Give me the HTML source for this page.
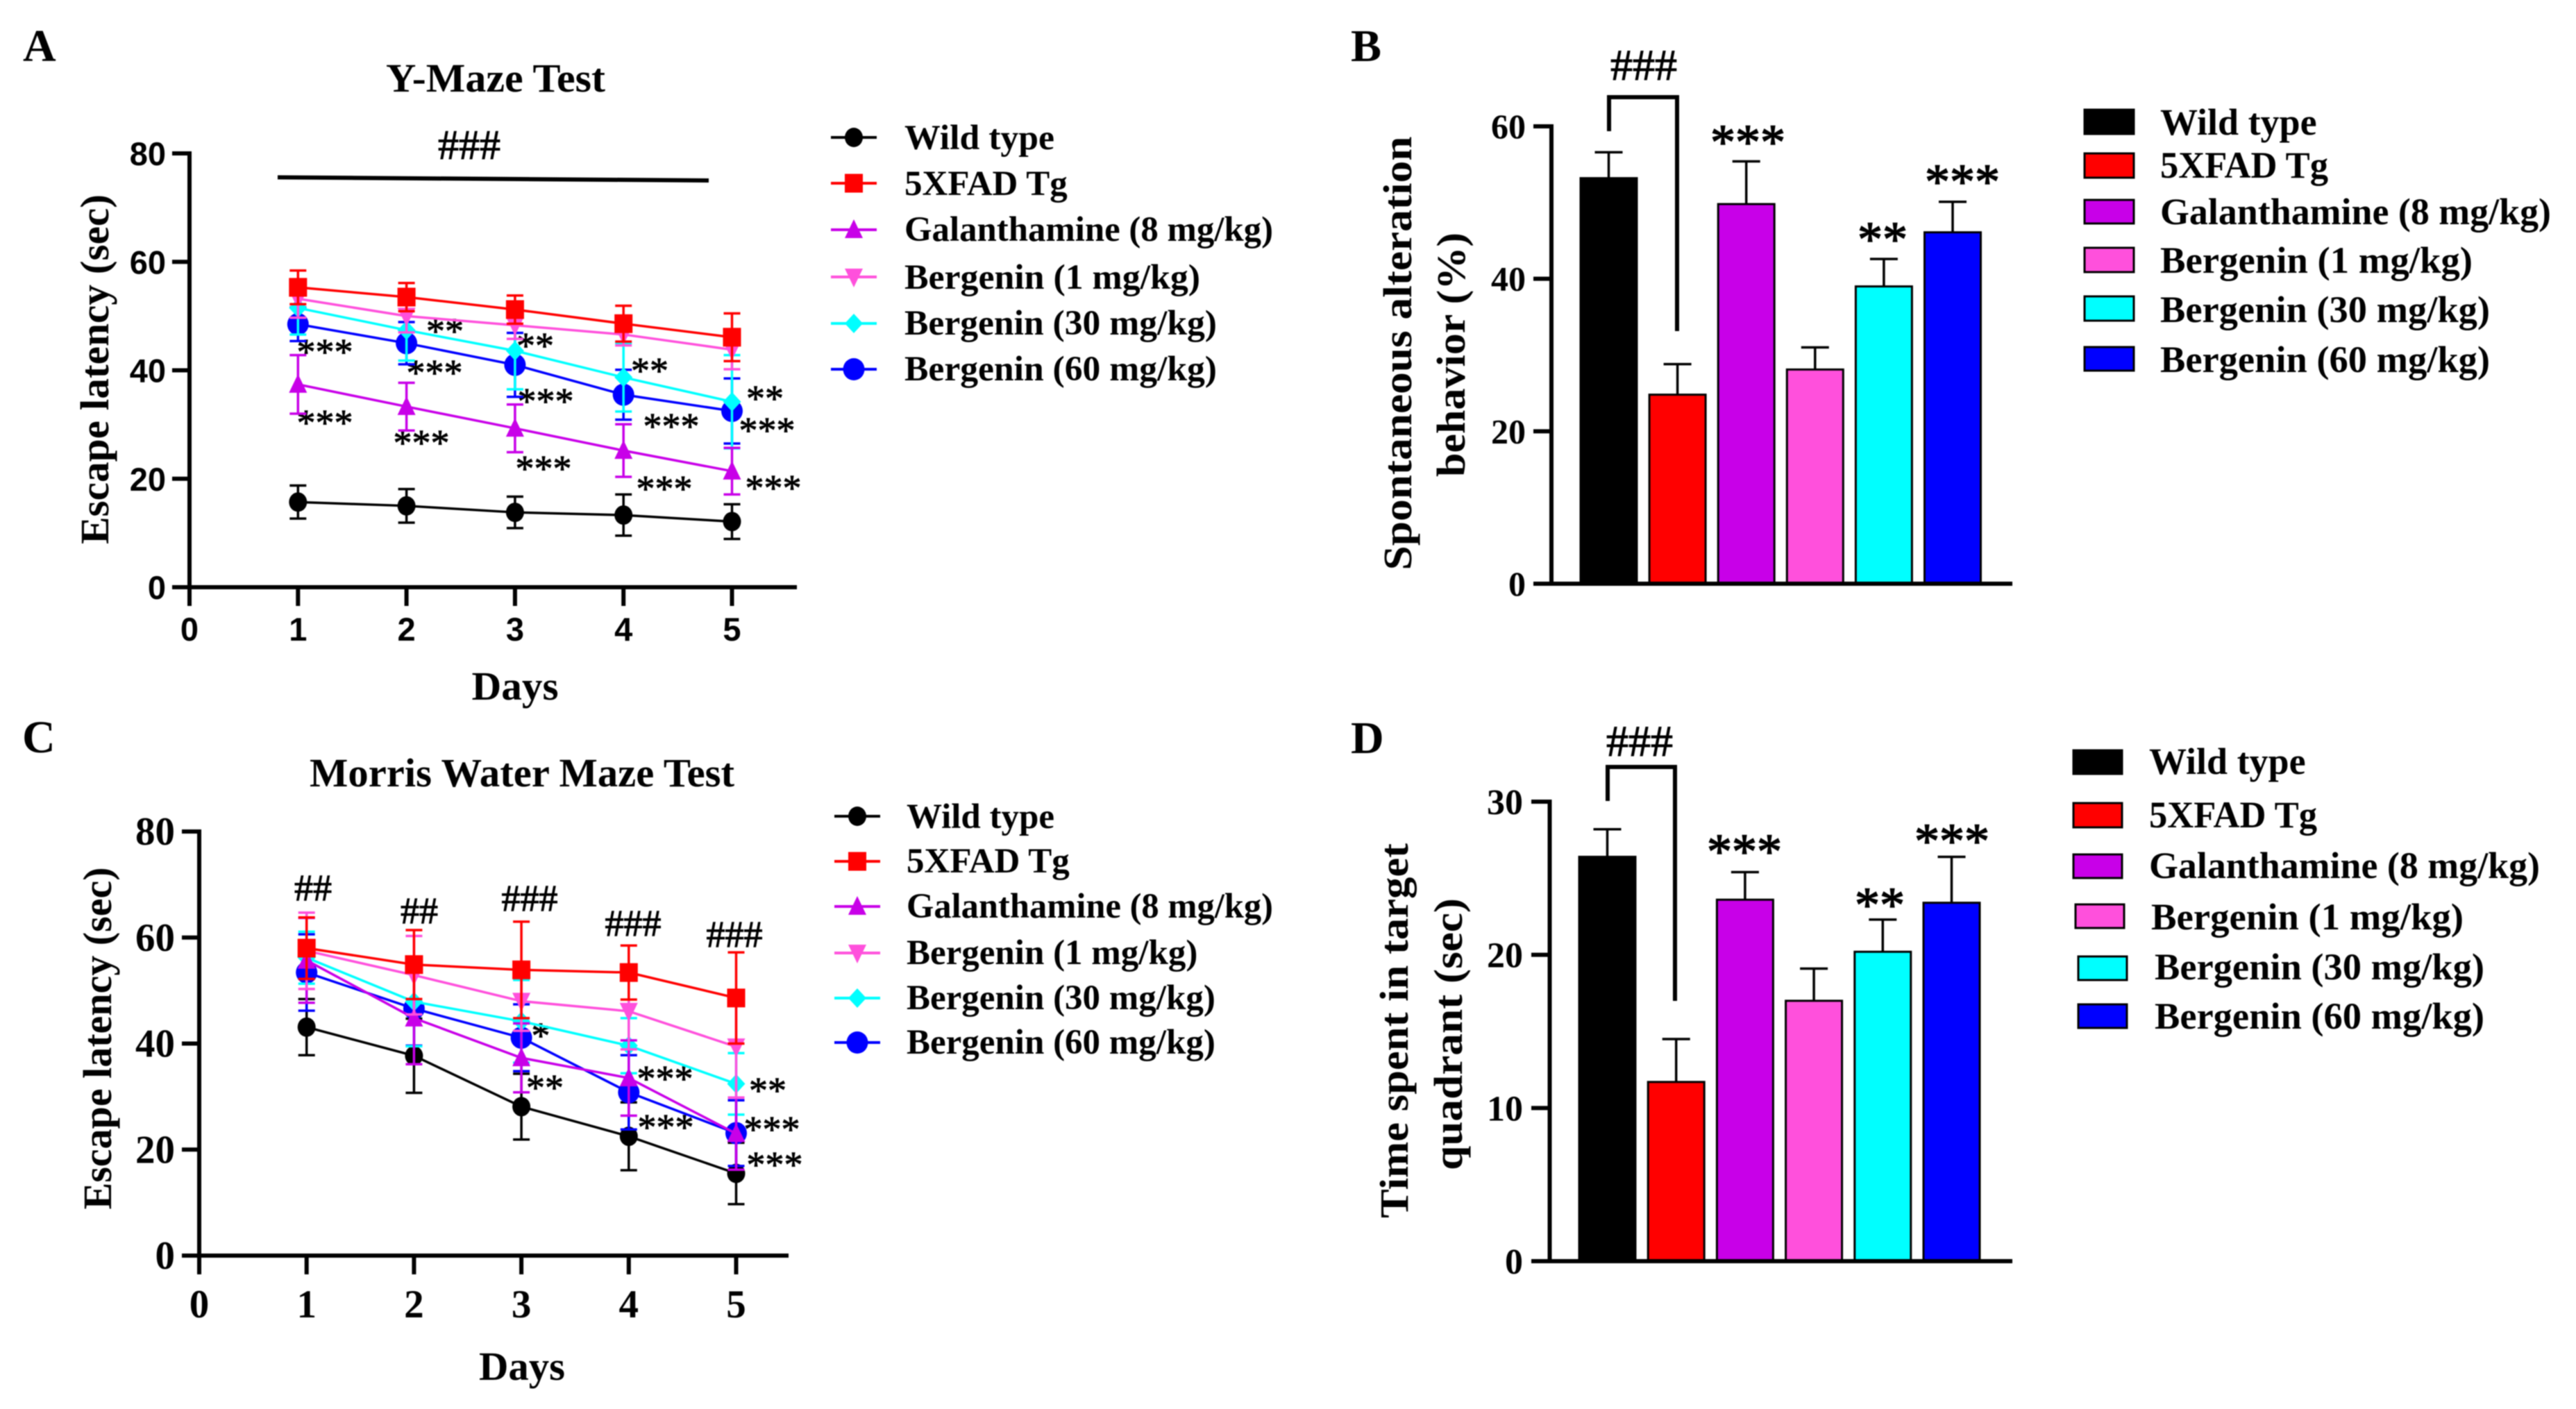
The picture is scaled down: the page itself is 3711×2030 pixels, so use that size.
<!DOCTYPE html>
<html lang="en">
<head>
<meta charset="utf-8">
<title>Behavioral test results</title>
<style>
html,body{margin:0;padding:0;background:#fff;}
body{width:3711px;height:2030px;overflow:hidden;}
svg{display:block;filter:blur(0.7px);}
text{font-family:"Liberation Serif",serif;font-weight:700;fill:#000;}
.sans{font-family:"Liberation Sans",sans-serif;}
.st-a{font-size:54px;text-anchor:middle;font-weight:400;stroke:#000;stroke-width:0.9;}
.st-b{font-size:72px;text-anchor:middle;font-weight:400;stroke:#000;stroke-width:1.5;}
.leg-a{font-size:51px;}
.leg-b{font-size:54px;}
.hash{text-anchor:middle;font-size:54px;font-weight:400;stroke:#000;stroke-width:1;}
.ttl{font-size:58px;text-anchor:middle;}
.letter{font-size:66px;}
</style>
</head>
<body>
<svg id="figure" xmlns="http://www.w3.org/2000/svg" width="3711" height="2030" viewBox="0 0 3711 2030">
<rect width="3711" height="2030" fill="#fff"/>

<!-- Panel letters -->
<text class="letter" x="33" y="88">A</text>
<text class="letter" x="1946" y="88">B</text>
<text class="letter" x="32" y="1084">C</text>
<text class="letter" x="1946" y="1085">D</text>

<!-- Panel A static text -->
<g id="panelA">
<text class="ttl" x="714" y="132" textLength="316" lengthAdjust="spacingAndGlyphs">Y-Maze Test</text>
<text class="ttl" x="742" y="1008" textLength="125" lengthAdjust="spacingAndGlyphs">Days</text>
<text class="ttl" transform="translate(156 532) rotate(-90)" textLength="504" lengthAdjust="spacingAndGlyphs">Escape latency (sec)</text>
<text class="hash" style="font-size:60px" x="676" y="229">###</text>
<line x1="400" y1="255.5" x2="1021" y2="260" stroke="#000" stroke-width="6"/>
<g>
<text class="st-a" x="468" y="525">***</text>
<text class="st-a" x="468" y="627">***</text>
<text class="st-a" x="641" y="495">**</text>
<text class="st-a" x="626" y="555">***</text>
<text class="st-a" x="607" y="656">***</text>
<text class="st-a" x="771" y="516">**</text>
<text class="st-a" x="786" y="596">***</text>
<text class="st-a" x="783" y="693">***</text>
<text class="st-a" x="936" y="552">**</text>
<text class="st-a" x="967" y="632">***</text>
<text class="st-a" x="957" y="722">***</text>
<text class="st-a" x="1102" y="592">**</text>
<text class="st-a" x="1105" y="638">***</text>
<text class="st-a" x="1114" y="721">***</text>
</g>
</g>

<!-- Panel C static text -->
<g id="panelC">
<text class="ttl" x="752" y="1133" textLength="612" lengthAdjust="spacingAndGlyphs">Morris Water Maze Test</text>
<text class="ttl" x="752" y="1988" textLength="124" lengthAdjust="spacingAndGlyphs">Days</text>
<text class="ttl" transform="translate(160 1496) rotate(-90)" textLength="493" lengthAdjust="spacingAndGlyphs">Escape latency (sec)</text>
<g>
<text class="hash" x="451" y="1297">##</text>
<text class="hash" x="604" y="1330">##</text>
<text class="hash" x="763" y="1312">###</text>
<text class="hash" x="912" y="1348">###</text>
<text class="hash" x="1058" y="1364">###</text>
</g>
<g>
<text class="st-a" x="779" y="1510">*</text>
<text class="st-a" x="785" y="1585">**</text>
<text class="st-a" x="958" y="1572">***</text>
<text class="st-a" x="959" y="1642">***</text>
<text class="st-a" x="1106" y="1589">**</text>
<text class="st-a" x="1112" y="1645">***</text>
<text class="st-a" x="1116" y="1696">***</text>
</g>
</g>

<!-- Legend A text -->
<g id="legendA">
<text class="leg-a" x="1303" y="215" textLength="216" lengthAdjust="spacingAndGlyphs">Wild type</text>
<text class="leg-a" x="1303" y="281">5XFAD Tg</text>
<text class="leg-a" x="1303" y="347" textLength="531" lengthAdjust="spacingAndGlyphs">Galanthamine (8 mg/kg)</text>
<text class="leg-a" x="1303" y="416" textLength="426" lengthAdjust="spacingAndGlyphs">Bergenin (1 mg/kg)</text>
<text class="leg-a" x="1303" y="482" textLength="450" lengthAdjust="spacingAndGlyphs">Bergenin (30 mg/kg)</text>
<text class="leg-a" x="1303" y="548" textLength="450" lengthAdjust="spacingAndGlyphs">Bergenin (60 mg/kg)</text>
</g>

<!-- Legend C text -->
<g id="legendC">
<text class="leg-a" x="1306" y="1193">Wild type</text>
<text class="leg-a" x="1306" y="1257">5XFAD Tg</text>
<text class="leg-a" x="1306" y="1322" textLength="528" lengthAdjust="spacingAndGlyphs">Galanthamine (8 mg/kg)</text>
<text class="leg-a" x="1306" y="1389">Bergenin (1 mg/kg)</text>
<text class="leg-a" x="1306" y="1454">Bergenin (30 mg/kg)</text>
<text class="leg-a" x="1306" y="1518">Bergenin (60 mg/kg)</text>
</g>

<!-- Panel B static -->
<g id="panelB">
<text class="ttl" transform="translate(2033 509) rotate(-90)" textLength="625" lengthAdjust="spacingAndGlyphs">Spontaneous alteration</text>
<text class="ttl" transform="translate(2110 511) rotate(-90)" textLength="352" lengthAdjust="spacingAndGlyphs">behavior (%)</text>
<text class="hash" style="font-size:64px" x="2368" y="115">###</text>
<path d="M2318 189V140H2416V477" fill="none" stroke="#000" stroke-width="6"/>
<text class="st-b" x="2518" y="229">***</text>
<text class="st-b" x="2712" y="369">**</text>
<text class="st-b" x="2827" y="286">***</text>
</g>

<g id="legendB">
<rect x="3003" y="158" width="71" height="35" fill="#000" stroke="#000" stroke-width="3"/>
<rect x="3003" y="221" width="71" height="35" fill="#ff0000" stroke="#000" stroke-width="3"/>
<rect x="3003" y="288" width="71" height="34" fill="#c800e8" stroke="#000" stroke-width="3"/>
<rect x="3003" y="357" width="71" height="35" fill="#ff50dc" stroke="#000" stroke-width="3"/>
<rect x="3003" y="427" width="71" height="35" fill="#00ffff" stroke="#000" stroke-width="3"/>
<rect x="3003" y="500" width="71" height="34" fill="#0000ff" stroke="#000" stroke-width="3"/>
<text class="leg-b" x="3122" y="194" transform="translate(-10 0)">Wild type</text>
<text class="leg-b" x="3112" y="256" textLength="242" lengthAdjust="spacingAndGlyphs">5XFAD Tg</text>
<text class="leg-b" x="3112" y="323" textLength="563" lengthAdjust="spacingAndGlyphs">Galanthamine (8 mg/kg)</text>
<text class="leg-b" x="3112" y="393" textLength="450" lengthAdjust="spacingAndGlyphs">Bergenin (1 mg/kg)</text>
<text class="leg-b" x="3112" y="464" textLength="475" lengthAdjust="spacingAndGlyphs">Bergenin (30 mg/kg)</text>
<text class="leg-b" x="3112" y="536" textLength="475" lengthAdjust="spacingAndGlyphs">Bergenin (60 mg/kg)</text>
</g>

<!-- Panel D static -->
<g id="panelD">
<text class="ttl" transform="translate(2028 1485) rotate(-90)" textLength="540" lengthAdjust="spacingAndGlyphs">Time spent in target</text>
<text class="ttl" transform="translate(2106 1490) rotate(-90)" textLength="392" lengthAdjust="spacingAndGlyphs">quadrant (sec)</text>
<text class="hash" style="font-size:64px" x="2362" y="1089">###</text>
<path d="M2316 1154V1105H2413V1442" fill="none" stroke="#000" stroke-width="6"/>
<text class="st-b" x="2513" y="1251">***</text>
<text class="st-b" x="2708" y="1328">**</text>
<text class="st-b" x="2812" y="1236">***</text>
</g>

<g id="legendD">
<rect x="2987" y="1081" width="70" height="34" fill="#000" stroke="#000" stroke-width="3"/>
<rect x="2987" y="1157" width="70" height="35" fill="#ff0000" stroke="#000" stroke-width="3"/>
<rect x="2987" y="1231" width="70" height="34" fill="#c800e8" stroke="#000" stroke-width="3"/>
<rect x="2990" y="1303" width="70" height="34" fill="#ff50dc" stroke="#000" stroke-width="3"/>
<rect x="2994" y="1378" width="70" height="34" fill="#00ffff" stroke="#000" stroke-width="3"/>
<rect x="2994" y="1447" width="70" height="34" fill="#0000ff" stroke="#000" stroke-width="3"/>
<text class="leg-b" x="3096" y="1115">Wild type</text>
<text class="leg-b" x="3096" y="1192" textLength="242" lengthAdjust="spacingAndGlyphs">5XFAD Tg</text>
<text class="leg-b" x="3096" y="1265" textLength="563" lengthAdjust="spacingAndGlyphs">Galanthamine (8 mg/kg)</text>
<text class="leg-b" x="3099" y="1339" textLength="450" lengthAdjust="spacingAndGlyphs">Bergenin (1 mg/kg)</text>
<text class="leg-b" x="3104" y="1411" textLength="475" lengthAdjust="spacingAndGlyphs">Bergenin (30 mg/kg)</text>
<text class="leg-b" x="3104" y="1482" textLength="475" lengthAdjust="spacingAndGlyphs">Bergenin (60 mg/kg)</text>
</g>
</svg>

<script>
// ---------- Categories and ticks ----------
const days = [1, 2, 3, 4, 5];
const lineXTicks = [0, 1, 2, 3, 4, 5];
const lineYTicks = [0, 20, 40, 60, 80];
const alternationTicks = [0, 20, 40, 60];
const quadrantTicks = [0, 10, 20, 30];
const groupKeys = ['wild-type', '5xfad-tg', 'galanthamine', 'bergenin-1', 'bergenin-30', 'bergenin-60'];

// ---------- Y-Maze values ----------
const ymazeWild = [15.7, 15.0, 13.8, 13.3, 12.1];
const ymazeWildErr = [3.05, 3.1, 2.9, 3.8, 3.2];
const ymazeTg = [55.3, 53.5, 51.2, 48.6, 46.1];
const ymazeTgErr = [3.1, 2.6, 2.6, 3.3, 4.4];
const ymazeGal = [37.4, 33.3, 29.3, 25.2, 21.4];
const ymazeGalErr = [5.4, 4.4, 4.4, 4.85, 4.3];
const ymazeB1 = [53.2, 50.0, 48.3, 46.6, 43.8];
const ymazeB1Err = [3.5, 3.0, 2.5, 2.0, 3.6];
const ymazeB30 = [51.5, 47.4, 43.6, 38.7, 34.2];
const ymazeB30Err = [4.9, 5.6, 7.1, 6.3, 8.6];
const ymazeB60 = [48.5, 45.0, 41.0, 35.5, 32.5];
const ymazeB60Err = [3.1, 3.9, 5.9, 4.6, 6.0];

// ---------- Morris water maze values ----------
const morrisWild = [43.1, 37.7, 28.1, 22.5, 15.5];
const morrisWildErr = [5.3, 7.0, 6.2, 6.4, 5.8];
const morrisTg = [58.0, 54.9, 53.9, 53.4, 48.6];
const morrisTgErr = [5.8, 6.5, 9.1, 5.1, 8.6];
const morrisGal = [55.7, 44.8, 37.3, 33.5, 23.0];
const morrisGalErr = [8.0, 8.7, 6.5, 7.1, 6.8];
const morrisB1 = [57.5, 52.9, 48.0, 46.1, 39.4];
const morrisB1Err = [7.2, 7.4, 5.6, 7.2, 9.6];
const morrisB30 = [56.2, 47.9, 44.2, 39.6, 32.4];
const morrisB30Err = [4.9, 8.4, 7.8, 5.2, 5.8];
const morrisB60 = [53.4, 46.6, 41.1, 30.8, 23.1];
const morrisB60Err = [7.2, 7.0, 6.3, 7.0, 6.2];

// ---------- Bar values ----------
const alternationMeans = [53.2, 24.8, 49.8, 28.1, 39.0, 46.1];
const alternationErrs = [3.4, 4.0, 5.6, 2.9, 3.6, 4.0];
const quadrantMeans = [26.4, 11.7, 23.6, 17.0, 20.2, 23.4];
const quadrantErrs = [1.8, 2.8, 1.8, 2.1, 2.1, 3.0];

// ---------- Helpers ----------
const NS = 'http://www.w3.org/2000/svg';
function make(tag, attrs, parent) {
  const el = document.createElementNS(NS, tag);
  for (const k in attrs) el.setAttribute(k, attrs[k]);
  parent.appendChild(el);
  return el;
}
function linear(d0, d1, r0, r1) {
  return function (v) { return r0 + (v - d0) * (r1 - r0) / (d1 - d0); };
}
const BLACK = '#000000', RED = '#ff0000', PURPLE = '#c800e8', PINK = '#ff50dc', CYAN = '#00ffff', BLUE = '#0000ff';

function markerShape(kind, cx, cy, color, parent) {
  if (kind === 'circle') return make('ellipse', { cx: cx, cy: cy, rx: 13, ry: 14, fill: color }, parent);
  if (kind === 'bigcircle') return make('ellipse', { cx: cx, cy: cy, rx: 15.5, ry: 16, fill: color }, parent);
  if (kind === 'square') return make('rect', { x: cx - 13, y: cy - 13.5, width: 26, height: 27, fill: color }, parent);
  let pts;
  if (kind === 'up') pts = [[cx, cy - 15], [cx + 13, cy + 12], [cx - 13, cy + 12]];
  else if (kind === 'down') pts = [[cx - 13, cy - 12], [cx + 13, cy - 12], [cx, cy + 15]];
  else pts = [[cx, cy - 14], [cx + 13, cy], [cx, cy + 14], [cx - 13, cy]];
  return make('polygon', { points: pts.map(function (p) { return p.join(','); }).join(' '), fill: color }, parent);
}

function drawAxes(prefix, xScale, yScale, xTicks, yTicks, opt, parent) {
  const g = make('g', {}, parent);
  
  
  const x0 = xScale(0), y0 = yScale(0), yTop = yScale(yTicks[yTicks.length - 1]);
  const yAxis = make('line', { x1: x0, y1: yTop - 3, x2: x0, y2: y0 + opt.ylineBottom, stroke: '#000', 'stroke-width': 6 }, g);
  
  
  const xAxis = make('line', { x1: opt.tickLeft, y1: y0, x2: opt.xEnd, y2: y0, stroke: '#000', 'stroke-width': 6 }, g);
  
  
  yTicks.forEach(function (t) {
    const tick = make('line', { x1: opt.tickLeft, y1: yScale(t), x2: x0, y2: yScale(t), stroke: '#000', 'stroke-width': 6 }, g);
    
    
    const lab = make('text', { x: opt.labelRight, y: yScale(t) + opt.labelDy, 'text-anchor': 'end', 'font-size': opt.fontSize, class: opt.sans ? 'sans' : '' }, g);
    lab.textContent = String(t);
    
    
  });
  xTicks.forEach(function (t) {
    const tick = make('line', { x1: xScale(t), y1: y0, x2: xScale(t), y2: y0 + opt.xTickLen, stroke: '#000', 'stroke-width': 6 }, g);
    
    
    const lab = make('text', { x: xScale(t), y: opt.xLabelY, 'text-anchor': 'middle', 'font-size': opt.fontSize, class: opt.sans ? 'sans' : '' }, g);
    lab.textContent = String(t);
    
    
  });
}

function drawSeries(prefix, key, means, errs, color, kind, xScale, yScale, parent) {
  const g = make('g', {}, parent);
  
  
  days.forEach(function (d, i) {
    const x = xScale(d), hi = yScale(means[i] + errs[i]), lo = yScale(means[i] - errs[i]);
    const bar = make('path', {
      d: 'M' + x + ' ' + hi + 'V' + lo + 'M' + (x - 12) + ' ' + hi + 'H' + (x + 12) + 'M' + (x - 12) + ' ' + lo + 'H' + (x + 12),
      fill: 'none', stroke: color, 'stroke-width': 3.5
    }, g);
    
    
  });
  const line = make('polyline', {
    points: days.map(function (d, i) { return xScale(d) + ',' + yScale(means[i]); }).join(' '),
    fill: 'none', stroke: color, 'stroke-width': 3.5
  }, g);
  
  
  days.forEach(function (d, i) {
    const m = markerShape(kind, xScale(d), yScale(means[i]), color, g);
    
    
  });
}

function drawLegendKeys(parent, xCenter, halfLen, rows) {
  rows.forEach(function (r) {
    const g = make('g', {}, parent);
    
    
    make('line', { x1: xCenter - halfLen, y1: r.y, x2: xCenter + halfLen, y2: r.y, stroke: r.color, 'stroke-width': 4 }, g);
    markerShape(r.kind, xCenter, r.y, r.color, g);
  });
}

function drawBars(prefix, means, errs, xScale, yScale, width, parent) {
  const colors = [BLACK, RED, PURPLE, PINK, CYAN, BLUE];
  means.forEach(function (v, i) {
    const cx = xScale(i);
    const err = make('path', {
      d: 'M' + cx + ' ' + yScale(v) + 'V' + yScale(v + errs[i]) + 'M' + (cx - 20) + ' ' + yScale(v + errs[i]) + 'H' + (cx + 20),
      fill: 'none', stroke: '#000', 'stroke-width': 3.5
    }, parent);
    
    
    const bar = make('rect', {
      x: cx - width / 2, y: yScale(v), width: width, height: yScale(0) - yScale(v),
      fill: colors[i], stroke: '#000', 'stroke-width': 3
    }, parent);
    
    
  });
}

// ---------- Panel A ----------
const panelA = document.getElementById('panelA');
const xA = linear(0, 5, 273, 1054.5);
const yA = linear(0, 80, 846, 221);
drawAxes('y-maze', xA, yA, lineXTicks, lineYTicks, { tickLeft: 248, xEnd: 1148, xTickLen: 27, labelRight: 239, labelDy: 17, fontSize: 47, xLabelY: 923, sans: true, ylineBottom: 3 }, panelA);
drawSeries('y-maze', 'wild-type', ymazeWild, ymazeWildErr, BLACK, 'circle', xA, yA, panelA);
drawSeries('y-maze', 'bergenin-60', ymazeB60, ymazeB60Err, BLUE, 'bigcircle', xA, yA, panelA);
drawSeries('y-maze', 'bergenin-30', ymazeB30, ymazeB30Err, CYAN, 'diamond', xA, yA, panelA);
drawSeries('y-maze', 'galanthamine', ymazeGal, ymazeGalErr, PURPLE, 'up', xA, yA, panelA);
drawSeries('y-maze', 'bergenin-1', ymazeB1, ymazeB1Err, PINK, 'down', xA, yA, panelA);
drawSeries('y-maze', '5xfad-tg', ymazeTg, ymazeTgErr, RED, 'square', xA, yA, panelA);

// ---------- Panel C ----------
const panelC = document.getElementById('panelC');
const xC = linear(0, 5, 287, 1060.5);
const yC = linear(0, 80, 1809, 1198);
drawAxes('morris', xC, yC, lineXTicks, lineYTicks, { tickLeft: 262, xEnd: 1136, xTickLen: 27, labelRight: 252, labelDy: 19, fontSize: 57, xLabelY: 1898, sans: false, ylineBottom: 3 }, panelC);
drawSeries('morris', 'wild-type', morrisWild, morrisWildErr, BLACK, 'circle', xC, yC, panelC);
drawSeries('morris', 'bergenin-60', morrisB60, morrisB60Err, BLUE, 'bigcircle', xC, yC, panelC);
drawSeries('morris', 'bergenin-30', morrisB30, morrisB30Err, CYAN, 'diamond', xC, yC, panelC);
drawSeries('morris', 'galanthamine', morrisGal, morrisGalErr, PURPLE, 'up', xC, yC, panelC);
drawSeries('morris', 'bergenin-1', morrisB1, morrisB1Err, PINK, 'down', xC, yC, panelC);
drawSeries('morris', '5xfad-tg', morrisTg, morrisTgErr, RED, 'square', xC, yC, panelC);

// ---------- Legends A and C ----------
drawLegendKeys(document.getElementById('legendA'), 1230, 33, [
  { key: 'wild-type', color: BLACK, kind: 'circle', y: 198 },
  { key: '5xfad-tg', color: RED, kind: 'square', y: 264 },
  { key: 'galanthamine', color: PURPLE, kind: 'up', y: 331 },
  { key: 'bergenin-1', color: PINK, kind: 'down', y: 399 },
  { key: 'bergenin-30', color: CYAN, kind: 'diamond', y: 466 },
  { key: 'bergenin-60', color: BLUE, kind: 'bigcircle', y: 532 }
]);
drawLegendKeys(document.getElementById('legendC'), 1235, 33, [
  { key: 'wild-type', color: BLACK, kind: 'circle', y: 1176 },
  { key: '5xfad-tg', color: RED, kind: 'square', y: 1241 },
  { key: 'galanthamine', color: PURPLE, kind: 'up', y: 1306 },
  { key: 'bergenin-1', color: PINK, kind: 'down', y: 1373 },
  { key: 'bergenin-30', color: CYAN, kind: 'diamond', y: 1438 },
  { key: 'bergenin-60', color: BLUE, kind: 'bigcircle', y: 1502 }
]);

// ---------- Panel B ----------
const panelB = document.getElementById('panelB');
const xB = linear(0, 5, 2317.5, 2813);
const yB = linear(0, 60, 841, 182);
drawBars('alternation', alternationMeans, alternationErrs, xB, yB, 81, panelB);
drawAxes('alternation', function (v) { return 2235; }, yB, [], alternationTicks, { tickLeft: 2209, xEnd: 2899, xTickLen: 0, labelRight: 2198, labelDy: 17, fontSize: 50, xLabelY: 0, sans: false, ylineBottom: 3 }, panelB);

// ---------- Panel D ----------
const panelD = document.getElementById('panelD');
const xD = linear(0, 5, 2315.5, 2811.5);
const yD = linear(0, 30, 1817, 1155);
drawBars('quadrant', quadrantMeans, quadrantErrs, xD, yD, 81, panelD);
drawAxes('quadrant', function (v) { return 2232.5; }, yD, [], quadrantTicks, { tickLeft: 2206, xEnd: 2899, xTickLen: 0, labelRight: 2194, labelDy: 18, fontSize: 52, xLabelY: 0, sans: false, ylineBottom: 3 }, panelD);
</script>
</body>
</html>
